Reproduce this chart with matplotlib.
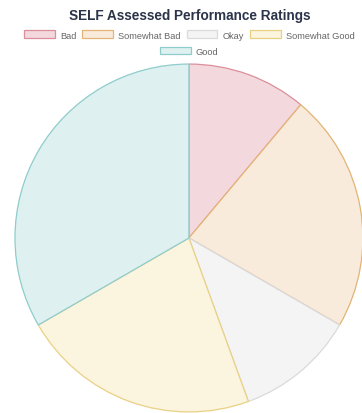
import matplotlib.pyplot as plt

plt.rcParams['font.family'] = ['Liberation Sans', 'DejaVu Sans']

categories = ["Bad", "Somewhat Bad", "Okay", "Somewhat Good", "Good"]
counts = [1, 2, 1, 2, 3]
fill_colors = ["#f3d9dd", "#f8ebdc", "#f4f4f5", "#fbf4de", "#dff0f0"]
edge_colors = ["#dc8f9b", "#e3b476", "#dadadd", "#e9d184", "#8fcccc"]

fig = plt.figure(figsize=(3.62, 4.14), dpi=100)
ax = fig.add_axes([0.0414, 0.0024, 0.961, 0.8406])

wedges, _ = ax.pie(counts, startangle=90, counterclock=False, radius=1.0,
                   colors=fill_colors,
                   wedgeprops=dict(linewidth=0.9))
for w, ec in zip(wedges, edge_colors):
    w.set_edgecolor(ec)

ax.set_xlim(-1, 1)
ax.set_ylim(-1, 1)
ax.set_aspect('equal')
ax.axis('off')

fig.text(0.523, 0.962, "SELF Assessed Performance Ratings", ha='center', va='center',
         fontsize=9.8, fontweight='bold', color='#2b3449')

leg_kw = dict(frameon=False, fontsize=6.7, handlelength=3.3, handleheight=0.9,
              handletextpad=0.55, columnspacing=0.65, labelcolor='#666666',
              borderpad=0, borderaxespad=0)
fig.legend(wedges[:4], categories[:4], loc='center', ncol=4,
           bbox_to_anchor=(0.523, 0.913), **leg_kw)
fig.legend(wedges[4:], categories[4:], loc='center', ncol=1,
           bbox_to_anchor=(0.523, 0.874), **leg_kw)

fig.savefig("out.png", dpi=100)
